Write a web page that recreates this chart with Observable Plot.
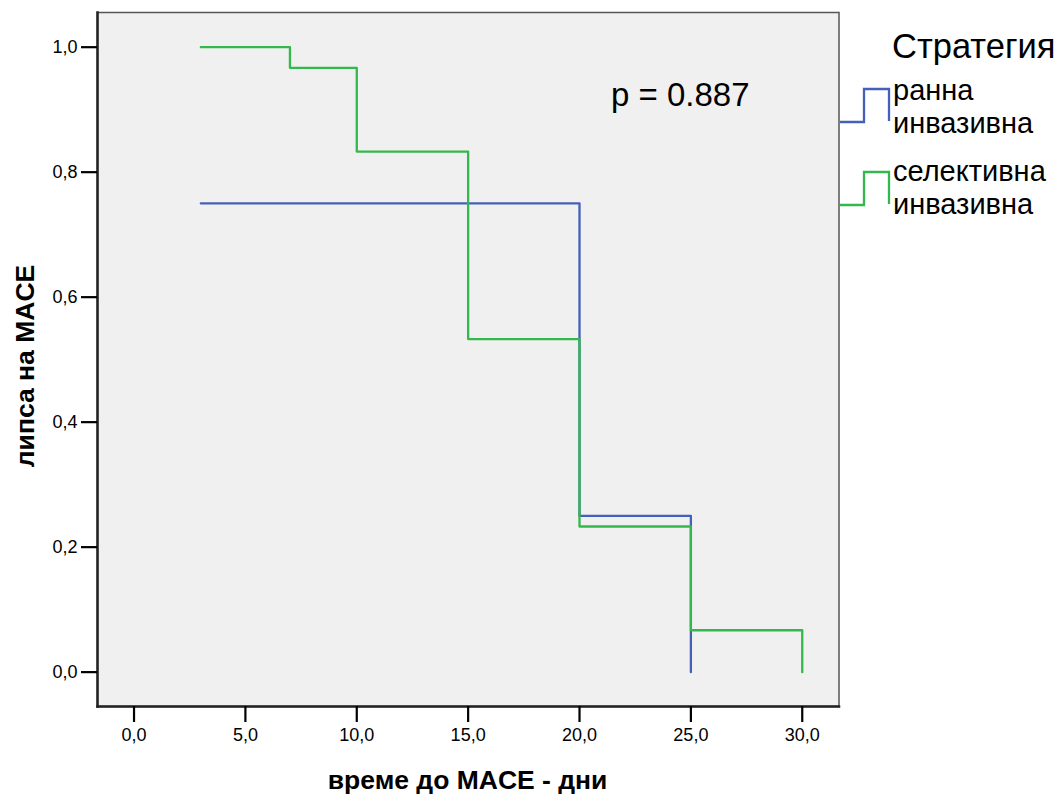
<!DOCTYPE html>
<html>
<head>
<meta charset="utf-8">
<script src="https://cdn.jsdelivr.net/npm/d3@7"></script>
<script src="https://cdn.jsdelivr.net/npm/@observablehq/plot@0.6"></script>
<style>
  html, body { margin: 0; padding: 0; background: #fff; }
  #wrap { position: relative; width: 1057px; height: 795px; font-family: "Liberation Sans", Arial, sans-serif; }
  #wrap > svg { position: absolute; left: 0; top: 0; }
  #overlay { position: absolute; left: 0; top: 0; pointer-events: none; }
</style>
</head>
<body>
<div id="wrap"></div>
<script>
// ---- data ----
const seriesNames = ["ранна инвазивна", "селективна инвазивна"];
const seriesColors = ["#4560b8", "#33b84b"];
const earlyTimes = [3, 20, 25];
const earlySurvival = [0.75, 0.25, 0];
const selectiveTimes = [3, 7, 10, 15, 20, 25, 30];
const selectiveSurvival = [1.0, 0.967, 0.833, 0.533, 0.233, 0.067, 0];
const xTicks = [0, 5, 10, 15, 20, 25, 30];
const yTicks = [0, 0.2, 0.4, 0.6, 0.8, 1.0];
const xTitle = "време до MACE - дни";
const yTitle = "липса на MACE";
const legendTitle = "Стратегия";
const legendLines = [["ранна", "инвазивна"], ["селективна", "инвазивна"]];
const pText = "p = 0.887";

const early = earlyTimes.map((t, i) => ({t, s: earlySurvival[i]}));
const selective = selectiveTimes.map((t, i) => ({t, s: selectiveSurvival[i]}));
const fmt = d => d3.format(".1f")(d).replace(".", ",");

const chart = Plot.plot({
  width: 1057,
  height: 795,
  marginLeft: 97,
  marginRight: 218.5,
  marginTop: 12,
  marginBottom: 89,
  style: {background: "transparent", fontFamily: "'Liberation Sans', Arial, sans-serif", fontSize: "18px", color: "#000"},
  x: {domain: [-1.64, 31.65], label: null},
  y: {domain: [-0.055, 1.0555], label: null},
  marks: [
    Plot.frame({fill: "#f0f0f0", stroke: "#555", strokeWidth: 1.5}),
    Plot.frame({anchor: "left", stroke: "#222", strokeWidth: 2.5}),
    Plot.frame({anchor: "bottom", stroke: "#222", strokeWidth: 2.5}),
    Plot.axisX({ticks: xTicks, tickFormat: fmt, tickSize: 16, tickPadding: 6, strokeWidth: 2.2, label: null}),
    Plot.axisY({ticks: yTicks, tickFormat: fmt, tickSize: 16, tickPadding: 4, strokeWidth: 2.2, label: null}),
    Plot.line(early, {x: "t", y: "s", curve: "step-after", stroke: seriesColors[0], strokeWidth: 2.3}),
    Plot.line(selective, {x: "t", y: "s", curve: "step-after", stroke: seriesColors[1], strokeWidth: 2.3})
  ]
});

const wrap = document.getElementById("wrap");
wrap.appendChild(chart);
// force tick-label size directly on every text node of the plot
d3.select(chart).selectAll("g").filter(function () { return this.getAttribute("font-size") != null; })
  .attr("font-size", 18);
d3.select(chart).selectAll("text").style("font-size", "18px").attr("fill", "#000");

// ---- overlay texts and legend ----
const ov = d3.select(wrap).append("svg").attr("id", "overlay").attr("width", 1057).attr("height", 795)
  .style("font-family", "'Liberation Sans', Arial, sans-serif");

ov.append("text").attr("x", 467.6).attr("y", 789).attr("text-anchor", "middle")
  .attr("font-weight", "bold").attr("font-size", 26.5).text(xTitle);
ov.append("text").attr("transform", "translate(34,366) rotate(-90)").attr("text-anchor", "middle")
  .attr("font-weight", "bold").attr("font-size", 26.5).text(yTitle);
ov.append("text").attr("x", 611).attr("y", 106).attr("font-size", 33).text(pText);

ov.append("text").attr("x", 892).attr("y", 58).attr("font-size", 34.5).text(legendTitle);
const entryTop = [89, 172];
const entryBaselines = [[100, 133], [181, 214]];
seriesNames.forEach((name, i) => {
  const top = entryTop[i], bot = top + 33;
  ov.append("polyline")
    .attr("points", `840,${bot} 864,${bot} 864,${top} 889,${top} 889,${bot - 1}`)
    .attr("fill", "none").attr("stroke", seriesColors[i]).attr("stroke-width", 2.3);
  legendLines[i].forEach((ln, j) => {
    ov.append("text").attr("x", 893).attr("y", entryBaselines[i][j]).attr("font-size", 29).text(ln);
  });
});
</script>
</body>
</html>
